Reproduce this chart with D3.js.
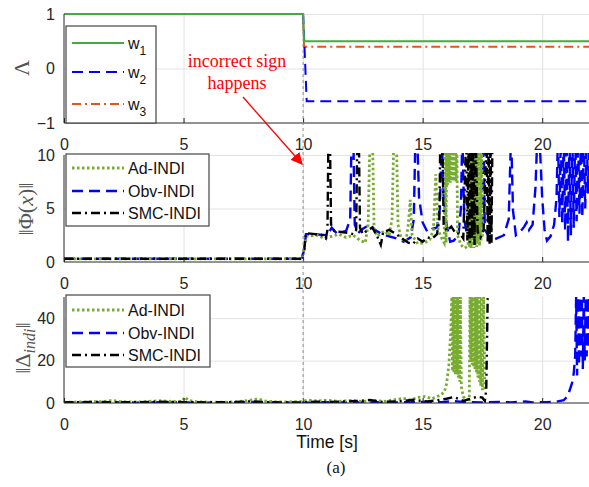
<!DOCTYPE html>
<html>
<head>
<meta charset="utf-8">
<script src="https://cdn.jsdelivr.net/npm/d3@7"></script>
<style>
  body { margin: 0; background: #fff; }
  text { font-family: "Liberation Sans", Arial, sans-serif; }
</style>
</head>
<body>
<svg id="chart"></svg>
<script>
// ---- data ----
var xTicks = [0, 5, 10, 15, 20];
var lambdaTicks = [-1, 0, 1];
var phiTicks = [0, 5, 10];
var deltaTicks = [0, 20, 40];
var eventTime = 10;

// panel 1: weights
var lambdaTime = [0, 10, 10.04, 10.15, 22];
var w1 = [1, 1, 0.5, 0.5, 0.5];
var w2 = [1, 1, 0.6, -0.6, -0.6];
var w3 = [1, 1, 0.4, 0.4, 0.4];

// panel 2: ||Phi(x)||, [time, value]
var adPhi = [[0,0.3],[9.95,0.3],[10.05,1.4],[10.15,2.4],[10.6,2.5],[10.9,2.2],[11.2,2.4],[11.5,2.6],[11.8,2.3],[12.1,2.5],[12.4,2.0],[12.6,1.8],[12.72,3.5],[12.8,12],[12.9,12],[12.97,3],[13.1,2.4],[13.4,2.9],[13.6,2.5],[13.72,4],[13.8,12],[13.9,12],[13.97,3.5],[14.1,2.2],[14.3,1.9],[14.4,3.5],[14.48,5.8],[14.56,2.5],[14.8,1.7],[15.1,1.8],[15.3,2.1],[15.45,3],[15.55,8.2],[15.65,3],[15.8,2.2],[15.9,1.8],[15.95,12],[15.98,1.8],[16.01,12],[16.04,7.2],[16.07,12],[16.1,7.5],[16.13,12],[16.16,7.4],[16.19,12],[16.22,7.6],[16.25,12],[16.28,7.5],[16.31,12],[16.34,7.8],[16.37,12],[16.4,7.5],[16.43,12],[16.46,2.5],[16.6,1.6],[16.75,1.3],[16.9,1.5],[16.93,12],[16.96,1.4],[16.99,12],[17.02,1.3],[17.05,12],[17.08,1.5],[17.11,12],[17.14,1.3],[17.17,12],[17.2,1.6],[17.23,12],[17.26,1.4],[17.29,12],[17.32,1.7],[17.35,12],[17.38,1.5],[17.41,12],[17.44,2],[17.47,12],[17.5,2.2]];
var obvPhi = [[0,0.3],[9.95,0.3],[10.05,1.2],[10.12,2.6],[10.5,2.6],[11.0,2.5],[11.2,3.2],[11.4,2.7],[11.8,2.9],[11.97,4],[12.03,12],[12.1,12],[12.16,3.5],[12.3,2.7],[12.5,3.1],[12.8,3.5],[13.0,3.0],[13.3,2.6],[13.6,2.4],[13.9,2.2],[14.2,1.9],[14.5,2.3],[14.63,4],[14.7,12],[14.77,12],[14.85,6],[15.0,3.7],[15.2,2.8],[15.4,3.1],[15.6,3.2],[15.72,5],[15.8,12],[15.88,6],[16.0,3.5],[16.15,1.9],[16.3,2.0],[16.5,2.5],[16.6,5],[16.66,12],[16.74,4],[16.85,2.6],[17.0,3.9],[17.2,3.5],[17.4,2.8],[17.5,4],[17.55,12],[17.6,3],[17.9,2.0],[18.1,2.2],[18.4,2.5],[18.6,4],[18.7,12],[18.78,4.8],[18.9,2.5],[19.1,2.9],[19.25,3.3],[19.35,3.7],[19.45,3.0],[19.6,3.5],[19.72,7],[19.8,12],[19.88,12],[20.0,6],[20.1,3],[20.2,2.0],[20.35,2.4],[20.5,3.5],[20.6,6],[20.66,12],[20.72,4.2],[20.78,12],[20.84,3.6],[20.9,12],[20.96,3],[21.02,12],[21.08,1.9],[21.14,12],[21.2,2.5],[21.26,12],[21.32,3.2],[21.38,12],[21.44,3.8],[21.5,12],[21.56,4.5],[21.62,12],[21.68,4.2],[21.74,12],[21.8,5],[21.86,12],[21.92,6.4],[21.98,12]];
var smcPhi = [[0,0.3],[9.95,0.3],[10.05,1.2],[10.12,2.7],[10.5,2.6],[10.8,2.5],[10.95,2.2],[11.02,3],[11.06,12],[11.12,12],[11.17,3.5],[11.3,2.9],[11.6,2.8],[11.9,2.7],[12.1,2.6],[12.22,3],[12.27,12],[12.33,12],[12.38,3.2],[12.5,2.6],[12.7,3.0],[12.9,3.2],[13.1,2.4],[13.25,1.6],[13.35,2.8],[13.6,3.0],[13.9,2.6],[14.2,2.1],[14.4,1.8],[14.6,1.7],[14.8,2.2],[15.0,1.9],[15.2,2.3],[15.4,2.2],[15.6,2.6],[15.7,4],[15.74,12],[15.82,12],[15.88,3.5],[16.0,2.9],[16.2,3.3],[16.4,2.6],[16.55,2.7],[16.7,2.2],[16.82,12],[16.87,2.0],[16.92,12],[16.97,1.8],[17.02,12],[17.07,2.2],[17.12,12],[17.17,1.6],[17.22,12],[17.3,2.8],[17.42,2.3],[17.55,3],[17.68,12],[17.72,1.8],[17.76,12],[17.8,1.7],[17.84,12],[17.88,1.8],[17.92,12]];

// panel 3: ||Delta_indi||, [time, value]
var adDelta = [[0,0.4],[0.8,0.5],[1.6,0.7],[2.0,1.2],[2.4,0.6],[3.2,0.5],[3.7,0.9],[4.1,1.1],[4.6,0.6],[4.95,0.8],[5.05,2.8],[5.2,1.2],[5.6,0.5],[6.4,0.4],[7.2,0.5],[7.7,1.2],[8.1,1.9],[8.4,1.0],[8.9,0.5],[9.6,0.6],[10.0,0.7],[10.2,1.4],[10.6,0.9],[11.0,1.3],[11.5,0.8],[12.0,1.2],[12.5,0.7],[13.0,1.2],[13.4,0.8],[13.8,1.5],[14.2,2.2],[14.5,1.4],[14.8,2.6],[15.1,3.0],[15.4,2.0],[15.7,3.5],[15.9,5],[16.0,9],[16.1,18],[16.18,35],[16.22,50],[16.25,15],[16.28,50],[16.31,14],[16.34,50],[16.37,13],[16.4,50],[16.43,14],[16.46,50],[16.49,12],[16.52,50],[16.55,10],[16.58,50],[16.62,7.6],[16.7,3],[16.8,1.8],[16.95,1.5],[16.98,50],[17.01,20],[17.04,50],[17.07,18],[17.1,50],[17.13,17],[17.16,50],[17.19,16],[17.22,50],[17.25,14],[17.28,50],[17.31,12],[17.34,50],[17.37,10],[17.4,50],[17.43,8],[17.46,50],[17.5,6],[17.55,50],[17.6,6]];
var obvDelta = [[0,0.3],[1,0.2],[2,0.4],[3,0.2],[4,0.4],[5,0.3],[6,0.2],[7,0.3],[8,0.5],[9,0.3],[10,0.2],[11,0.4],[12,0.3],[13,0.4],[14,0.3],[15,0.5],[15.8,0.4],[16.3,0.9],[16.8,0.4],[17.5,0.3],[18.2,0.5],[18.7,0.3],[19.3,0.7],[19.6,0.3],[20.2,0.4],[20.6,0.6],[20.9,1.3],[21.05,3],[21.15,6],[21.25,9.5],[21.32,14],[21.38,22],[21.42,50],[21.46,13],[21.5,50],[21.54,18],[21.58,50],[21.62,22],[21.66,50],[21.7,16],[21.74,50],[21.78,20],[21.82,50],[21.86,22],[21.9,50],[21.94,26],[21.98,50],[22.02,30]];
var smcDelta = [[0,0.3],[1.5,0.5],[2,0.3],[3,0.4],[4,0.6],[5,0.4],[6,0.3],[7,0.4],[7.8,0.8],[8.2,0.5],[9,0.3],[10,0.3],[10.5,0.6],[11,0.5],[12,0.8],[12.8,1.4],[13.3,0.5],[14,0.8],[14.6,1.5],[15.2,0.7],[15.6,1.3],[16,2.0],[16.3,2.8],[16.5,2.0],[16.7,1.0],[17.0,2.0],[17.3,3.0],[17.5,2.5],[17.6,1],[17.66,6],[17.72,49],[17.76,49]];

// ---- styles ----
var W = 589, H = 487;
var axisColor = "#262626", gridColor = "#e3e3e3";
var styles = {
  w1:  { color: "#3fae3f", dash: null, width: 2 },
  w2:  { color: "#0000ff", dash: "11,6", width: 2 },
  w3:  { color: "#e2561d", dash: "9,4,2,4", width: 2 },
  ad:  { color: "#77ac30", dash: "2.5,2.5", width: 2.8 },
  obv: { color: "#0000ff", dash: "11,6", width: 2.4 },
  smc: { color: "#000000", dash: "9,4,2,4", width: 2.4 }
};

var svg = d3.select("#chart").attr("width", W).attr("height", H);
svg.append("rect").attr("width", W).attr("height", H).attr("fill", "#fff");

var x = d3.scaleLinear().domain([0, 22]).range([64, 590]);

function drawPanel(cfg) {
  var y = d3.scaleLinear().domain(cfg.domain).range([cfg.bottom, cfg.top]);
  var g = svg.append("g");

  // grid
  g.append("g")
    .attr("transform", "translate(0," + cfg.bottom + ")")
    .call(d3.axisBottom(x).tickValues(xTicks.slice(1)).tickSize(-(cfg.bottom - cfg.top)).tickFormat(""))
    .call(function (s) { s.select(".domain").remove(); s.selectAll("line").attr("stroke", gridColor); });
  g.append("g")
    .attr("transform", "translate(64,0)")
    .call(d3.axisLeft(y).tickValues(cfg.ticks.filter(function (d) { return d !== cfg.domain[0]; })).tickSize(-(W - 64)).tickFormat(""))
    .call(function (s) { s.select(".domain").remove(); s.selectAll("line").attr("stroke", gridColor); });

  // data
  var clipId = "clip" + cfg.top;
  svg.append("clipPath").attr("id", clipId).append("rect")
    .attr("x", 64).attr("y", cfg.top - 2).attr("width", W - 64).attr("height", cfg.bottom - cfg.top + 2);
  var line = d3.line().x(function (d) { return x(d[0]); }).y(function (d) { return y(d[1]); });
  var dataG = g.append("g").attr("clip-path", "url(#" + clipId + ")");
  cfg.series.forEach(function (s) {
    dataG.append("path").datum(s.data)
      .attr("d", line)
      .attr("fill", "none")
      .attr("stroke", s.style.color)
      .attr("stroke-width", s.style.width)
      .attr("stroke-dasharray", s.style.dash);
  });

  // axes
  var xa = g.append("g")
    .attr("transform", "translate(0," + cfg.bottom + ")")
    .call(d3.axisBottom(x).tickValues(xTicks).tickSize(-5).tickSizeOuter(0).tickFormat(d3.format("d")));
  xa.select(".domain").attr("stroke", axisColor).attr("d", "M64,0H" + W);
  xa.selectAll("line").attr("stroke", axisColor);
  xa.selectAll("text").attr("y", 27).attr("dy", 0)
    .attr("fill", axisColor).style("font-size", "16px");

  var ya = g.append("g")
    .attr("transform", "translate(64,0)")
    .call(d3.axisLeft(y).tickValues(cfg.ticks).tickSize(0).tickPadding(9).tickFormat(d3.format("d")));
  ya.select(".domain").attr("stroke", axisColor).attr("d", "M0," + cfg.top + "V" + cfg.bottom);
  ya.selectAll("text").attr("fill", axisColor).style("font-size", "16px");

  return y;
}

function drawLegend(box, entries) {
  var g = svg.append("g");
  g.append("rect").attr("x", box.x).attr("y", box.y).attr("width", box.w).attr("height", box.h)
    .attr("fill", "#fff").attr("stroke", "#444").attr("stroke-width", 1.2);
  entries.forEach(function (e, i) {
    var yy = box.rows[i];
    g.append("line").attr("x1", box.x + 6).attr("x2", box.x + 58).attr("y1", yy).attr("y2", yy)
      .attr("stroke", e.style.color).attr("stroke-width", e.style.width)
      .attr("stroke-dasharray", e.style.dash);
    var t = g.append("text").attr("x", box.x + 62).attr("y", yy + 6)
      .attr("fill", "#111").style("font-size", "16px").text(e.label);
    if (e.sub) t.append("tspan").attr("dy", 6).style("font-size", "12px").text(e.sub);
  });
}

var lambdaSeries = [w1, w2, w3].map(function (vals, k) {
  return { data: lambdaTime.map(function (t, i) { return [t, vals[i]]; }),
           style: [styles.w1, styles.w2, styles.w3][k] };
});

drawPanel({ top: 14, bottom: 123, domain: [-1, 1], ticks: lambdaTicks,
  series: [lambdaSeries[2], lambdaSeries[1], lambdaSeries[0]] });
drawPanel({ top: 155, bottom: 262, domain: [0, 10], ticks: phiTicks,
  series: [{ data: obvPhi, style: styles.obv }, { data: adPhi, style: styles.ad }, { data: smcPhi, style: styles.smc }] });
drawPanel({ top: 297, bottom: 403, domain: [0, 50], ticks: deltaTicks,
  series: [{ data: obvDelta, style: styles.obv }, { data: adDelta, style: styles.ad }, { data: smcDelta, style: styles.smc }] });

// event marker
svg.append("line").attr("x1", x(eventTime)).attr("x2", x(eventTime)).attr("y1", 14).attr("y2", 403)
  .attr("stroke", "#8c8c8c").attr("stroke-width", 1).attr("stroke-dasharray", "3,3");

drawLegend({ x: 66, y: 26, w: 90, h: 97, rows: [43, 72, 104] }, [
  { label: "w", sub: "1", style: styles.w1 },
  { label: "w", sub: "2", style: styles.w2 },
  { label: "w", sub: "3", style: styles.w3 }]);
drawLegend({ x: 66, y: 154, w: 143, h: 72, rows: [168, 191, 213] }, [
  { label: "Ad-INDI", style: styles.ad },
  { label: "Obv-INDI", style: styles.obv },
  { label: "SMC-INDI", style: styles.smc }]);
drawLegend({ x: 66, y: 295, w: 144, h: 72, rows: [310, 333, 355] }, [
  { label: "Ad-INDI", style: styles.ad },
  { label: "Obv-INDI", style: styles.obv },
  { label: "SMC-INDI", style: styles.smc }]);

// y labels
var serif = '"Liberation Serif", "Times New Roman", serif';
function yLabel(cx, cy, size) {
  return svg.append("text").attr("transform", "translate(" + cx + "," + cy + ") rotate(-90)")
    .attr("text-anchor", "middle").attr("fill", "#555").style("font-family", serif).style("font-size", size + "px");
}
yLabel(29, 68, 22).text("Λ");
var l2 = yLabel(33, 209, 22);
l2.append("tspan").text("‖Φ(");
l2.append("tspan").style("font-style", "italic").text("x");
l2.append("tspan").text(")‖");
var l3 = yLabel(30, 348, 22);
l3.append("tspan").text("‖Δ");
l3.append("tspan").attr("dy", 5).style("font-style", "italic").style("font-size", "16px").text("indi");
l3.append("tspan").attr("dy", -5).text("‖");

// x label and caption
svg.append("text").attr("x", 327).attr("y", 448).attr("text-anchor", "middle")
  .attr("fill", "#111").style("font-size", "17.5px").text("Time [s]");
svg.append("text").attr("x", 336).attr("y", 473).attr("text-anchor", "middle")
  .attr("fill", "#111").style("font-family", serif).style("font-size", "17px").text("(a)");

// annotation
svg.append("text").attr("x", 237).attr("y", 67).attr("text-anchor", "middle")
  .attr("fill", "#ff0000").style("font-family", serif).style("font-size", "18px").text("incorrect sign");
svg.append("text").attr("x", 237).attr("y", 89).attr("text-anchor", "middle")
  .attr("fill", "#ff0000").style("font-family", serif).style("font-size", "18px").text("happens");
svg.append("defs").append("marker").attr("id", "arrow")
  .attr("viewBox", "0 0 10 10").attr("refX", 9).attr("refY", 5)
  .attr("markerWidth", 12).attr("markerHeight", 12).attr("markerUnits", "userSpaceOnUse")
  .attr("orient", "auto")
  .append("path").attr("d", "M0,0L10,5L0,10z").attr("fill", "#ff0000");
svg.append("line").attr("x1", 243).attr("y1", 97).attr("x2", 302).attr("y2", 164)
  .attr("stroke", "#ff0000").attr("stroke-width", 1.3).attr("marker-end", "url(#arrow)");
</script>
</body>
</html>
